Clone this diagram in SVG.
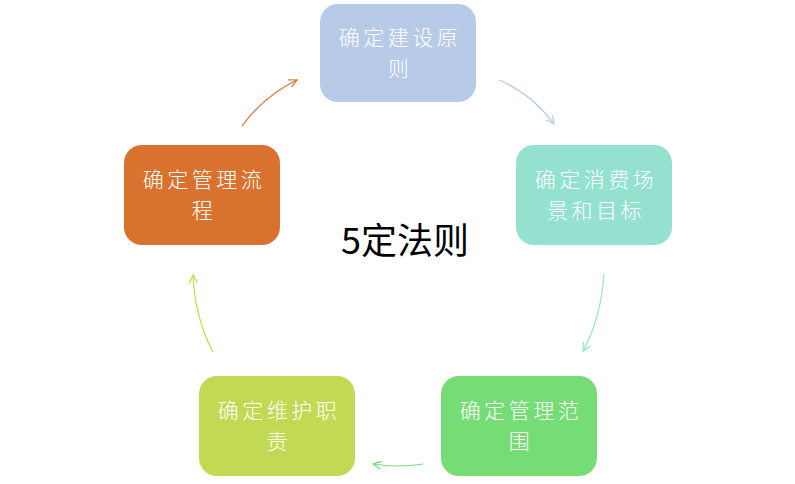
<svg xmlns="http://www.w3.org/2000/svg" width="795" height="484" viewBox="0 0 795 484">
<defs>
<style>
.box{stroke:none}
.lbl{font-family:"Noto Sans CJK SC","Microsoft YaHei",sans-serif;font-size:21px;font-weight:300;letter-spacing:3.5px;fill:#ffffff;text-anchor:middle}
.title{font-family:"Noto Sans CJK SC",sans-serif;font-size:36px;fill:#000000;text-anchor:middle}
.conn{fill:none;stroke-width:1.2}
</style>
<marker id="mBlue" viewBox="0 0 10 10" refX="9" refY="5" markerWidth="10" markerHeight="10" markerUnits="userSpaceOnUse" orient="auto"><path d="M1 1 L9 5 L1 9" fill="none" stroke="#b7cbe9" stroke-width="1.2"/></marker>
<marker id="mTeal" viewBox="0 0 10 10" refX="9" refY="5" markerWidth="10" markerHeight="10" markerUnits="userSpaceOnUse" orient="auto"><path d="M1 1 L9 5 L1 9" fill="none" stroke="#94e1d0" stroke-width="1.2"/></marker>
<marker id="mGreen" viewBox="0 0 10 10" refX="9" refY="5" markerWidth="10" markerHeight="10" markerUnits="userSpaceOnUse" orient="auto"><path d="M1 1 L9 5 L1 9" fill="none" stroke="#76dd76" stroke-width="1.2"/></marker>
<marker id="mLime" viewBox="0 0 10 10" refX="9" refY="5" markerWidth="10" markerHeight="10" markerUnits="userSpaceOnUse" orient="auto"><path d="M1 1 L9 5 L1 9" fill="none" stroke="#c2d953" stroke-width="1.2"/></marker>
<marker id="mOrange" viewBox="0 0 10 10" refX="9" refY="5" markerWidth="10" markerHeight="10" markerUnits="userSpaceOnUse" orient="auto"><path d="M1 1 L9 5 L1 9" fill="none" stroke="#d9722e" stroke-width="1.2"/></marker>
</defs>
<rect width="795" height="484" fill="#ffffff"/>
<g id="connectors">
<path class="conn" d="M499 80 Q532 94 554 124" stroke="#b7cbe9" marker-end="url(#mBlue)"/>
<path class="conn" d="M604 274 Q601 318 583 351" stroke="#94e1d0" marker-end="url(#mTeal)"/>
<path class="conn" d="M423 464 Q398 468 373 464" stroke="#76dd76" stroke-width="1.6" marker-end="url(#mGreen)"/>
<path class="conn" d="M213 352 Q195 318 193 275" stroke="#c2d953" marker-end="url(#mLime)"/>
<path class="conn" d="M242 126 Q264 96 297 80" stroke="#d9722e" marker-end="url(#mOrange)"/>
</g>
<g id="node-principles">
<rect class="box" x="320" y="4" width="156" height="98" rx="18" fill="#b7cbe9"/>
<text class="lbl" x="400" y="44.5">确定建设原<tspan x="400" dy="31">则</tspan></text>
</g>
<g id="node-scene">
<rect class="box" x="516" y="145" width="156" height="100" rx="18" fill="#94e1d0"/>
<text class="lbl" x="596" y="186.5">确定消费场<tspan x="596" dy="31">景和目标</tspan></text>
</g>
<g id="node-scope">
<rect class="box" x="441" y="376" width="156" height="100" rx="18" fill="#76dd76"/>
<text class="lbl" x="521" y="417.5">确定管理范<tspan x="521" dy="31">围</tspan></text>
</g>
<g id="node-duty">
<rect class="box" x="199" y="376" width="156" height="100" rx="18" fill="#c2d953"/>
<text class="lbl" x="279" y="417.5">确定维护职<tspan x="279" dy="31">责</tspan></text>
</g>
<g id="node-process">
<rect class="box" x="124" y="145" width="156" height="100" rx="18" fill="#d9722e"/>
<text class="lbl" x="204" y="186.5">确定管理流<tspan x="204" dy="31">程</tspan></text>
</g>
<g id="center">
<text class="title" x="405" y="254">5定法则</text>
</g>
</svg>
